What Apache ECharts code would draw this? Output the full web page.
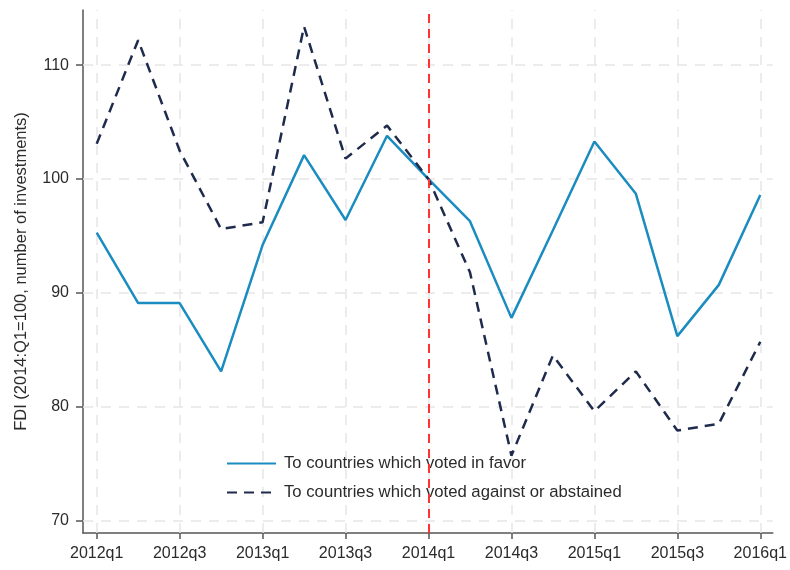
<!DOCTYPE html>
<html>
<head>
<meta charset="utf-8">
<script src="https://cdn.jsdelivr.net/npm/echarts@6/dist/echarts.min.js"></script>
<style>
  html, body { margin: 0; padding: 0; background: #fff; }
  #chart { width: 790px; height: 570px; }
</style>
</head>
<body>
<div id="chart"></div>
<script>
// quarters 2012q1 .. 2016q1
const quarters = ['2012q1', '2012q2', '2012q3', '2012q4', '2013q1', '2013q2', '2013q3', '2013q4',
  '2014q1', '2014q2', '2014q3', '2014q4', '2015q1', '2015q2', '2015q3', '2015q4', '2016q1']
const votedInFavor = [95.3, 89.1, 89.1, 83.1, 94.2, 102.1, 96.4, 103.8,
  100, 96.3, 87.8, 95.5, 103.3, 98.7, 86.2, 90.7, 98.6]
const votedAgainst = [103.1, 112.2, 102.5, 95.6, 96.2, 113.4, 101.8, 104.7,
  100, 91.8, 75.7, 84.5, 79.6, 83.1, 77.9, 78.5, 85.7]
const xTickIdx = [0, 2, 4, 6, 8, 10, 12, 14, 16]
const yTicks = [70, 80, 90, 100, 110]
const breakIdx = 8

const chart = echarts.init(document.getElementById('chart'))

const gridColor = '#e6e6e6'
const axisColor = '#555'
const textColor = '#2b2b2b'

chart.setOption({
  animation: false,
  textStyle: { fontFamily: 'Liberation Sans, Arial, sans-serif' },
  grid: { left: 83, right: 16, top: 10, bottom: 37 },
  legend: {
    orient: 'vertical',
    left: 221,
    top: 450,
    itemWidth: 49,
    itemHeight: 14,
    itemGap: 12,
    itemStyle: { opacity: 0 },
    textStyle: { fontSize: 16.7, color: textColor, padding: [0, 0, 0, 3] },
    data: ['To countries which voted in favor', 'To countries which voted against or abstained']
  },
  xAxis: {
    type: 'value',
    min: -0.33,
    max: 16.3,
    axisLine: { show: true, onZero: false, lineStyle: { color: axisColor, width: 1.5 } },
    axisTick: { show: true, length: 6, customValues: xTickIdx, lineStyle: { color: axisColor, width: 1.5 } },
    axisLabel: {
      customValues: xTickIdx,
      fontSize: 16,
      color: textColor,
      margin: 13,
      formatter: v => quarters[Math.round(v)]
    },
    splitLine: { show: false }
  },
  yAxis: {
    type: 'value',
    min: 68.9,
    max: 114.85,
    name: 'FDI (2014:Q1=100, number of investments)',
    nameLocation: 'middle',
    nameGap: 53,
    nameTextStyle: { fontSize: 16.5, color: textColor },
    axisLine: { show: true, onZero: false, lineStyle: { color: axisColor, width: 1.5 } },
    axisTick: { show: true, length: 7, customValues: yTicks, lineStyle: { color: axisColor, width: 1.5 } },
    axisLabel: { customValues: yTicks, fontSize: 16, color: textColor, margin: 14 },
    splitLine: { show: false }
  },
  series: [
    {
      name: 'To countries which voted in favor',
      type: 'line',
      data: votedInFavor.map((v, i) => [i, v]),
      symbol: 'none',
      lineStyle: { color: '#1a8cc0', width: 2.5 },
      itemStyle: { color: '#1a8cc0' },
      z: 3,
      markLine: {
        silent: true,
        symbol: 'none',
        label: { show: false },
        lineStyle: { color: gridColor, type: [10, 8], width: 1.5 },
        z: 1,
        data: xTickIdx.map(i => ({ xAxis: i })).concat(yTicks.map(v => ({ yAxis: v })))
      }
    },
    {
      name: 'To countries which voted against or abstained',
      type: 'line',
      data: votedAgainst.map((v, i) => [i, v]),
      symbol: 'none',
      lineStyle: { color: '#1f2b4d', width: 2.5, type: [10, 7] },
      itemStyle: { color: '#1f2b4d' },
      z: 4,
      markLine: {
        silent: true,
        symbol: 'none',
        label: { show: false },
        lineStyle: { color: '#ff3333', type: [9, 6], width: 2 },
        data: [{ xAxis: breakIdx }]
      }
    }
  ]
})
</script>
</body>
</html>
